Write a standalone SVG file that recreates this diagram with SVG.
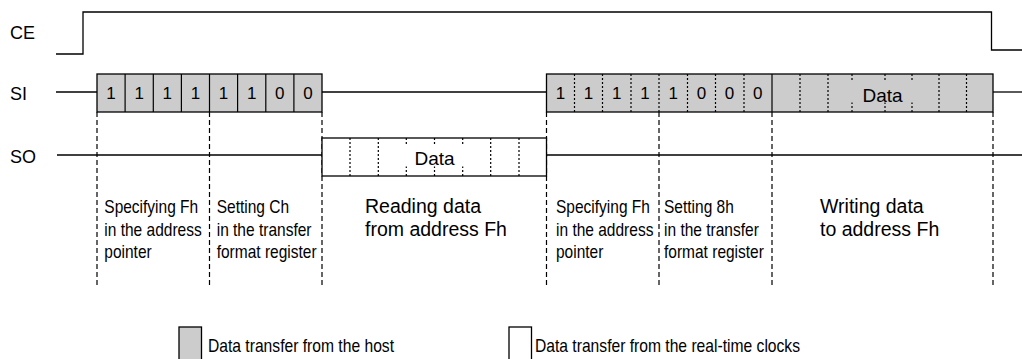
<svg xmlns="http://www.w3.org/2000/svg" width="1022" height="359" viewBox="0 0 1022 359">
<style>
.ln{stroke:#000;stroke-width:1.3;fill:none}
.box{stroke:#000;stroke-width:1.3}
.host{fill:#cccccc}
.rtc{fill:#ffffff}
.dot{stroke:#000;stroke-width:1.2;stroke-dasharray:2,2;fill:none}
.dash{stroke:#000;stroke-width:1.2;stroke-dasharray:5,3;fill:none}
.sep{stroke:#000;stroke-width:1.2}
text{font-family:"Liberation Sans",Arial,sans-serif;fill:#000}
.sig{font-size:18px}
.bit{font-size:17px;text-anchor:middle}
.data{font-size:19px;text-anchor:middle}
.nar{font-size:19px}
.desc{font-size:19.5px}
</style>
<rect width="1022" height="359" fill="#ffffff"/>

<g id="connectors">
  <polyline class="ln" points="56,54 83,54 83,12 991.5,12 991.5,50 1022,50"/>
  <line class="ln" x1="56" y1="92" x2="97" y2="92"/>
  <line class="ln" x1="322" y1="92" x2="546" y2="92"/>
  <line class="ln" x1="993" y1="92" x2="1022" y2="92"/>
  <line class="ln" x1="57" y1="155" x2="322" y2="155"/>
  <line class="ln" x1="547" y1="155" x2="1022" y2="155"/>
  <line class="dash" x1="97" y1="112" x2="97" y2="285"/>
  <line class="dash" x1="209.5" y1="112" x2="209.5" y2="285"/>
  <line class="dash" x1="322" y1="112" x2="322" y2="285"/>
  <line class="dash" x1="546.5" y1="112" x2="546.5" y2="285"/>
  <line class="dash" x1="659" y1="112" x2="659" y2="285"/>
  <line class="dash" x1="772" y1="112" x2="772" y2="285"/>
  <line class="dash" x1="993" y1="112" x2="993" y2="285"/>
</g>

<g id="label-CE"><text class="sig" x="10" y="39">CE</text></g>
<g id="label-SI"><text class="sig" x="10" y="100">SI</text></g>
<g id="label-SO"><text class="sig" x="10" y="163">SO</text></g>

<g id="si-frame-1">
  <rect class="box host" x="97" y="74" width="225" height="38"/>
  <line class="sep" x1="125.1" y1="74" x2="125.1" y2="112"/>
  <line class="sep" x1="153.3" y1="74" x2="153.3" y2="112"/>
  <line class="sep" x1="181.4" y1="74" x2="181.4" y2="112"/>
  <line class="sep" x1="209.5" y1="74" x2="209.5" y2="112"/>
  <line class="sep" x1="237.6" y1="74" x2="237.6" y2="112"/>
  <line class="sep" x1="265.8" y1="74" x2="265.8" y2="112"/>
  <line class="sep" x1="293.9" y1="74" x2="293.9" y2="112"/>
  <text class="bit" x="111" y="99">1</text>
  <text class="bit" x="139.2" y="99">1</text>
  <text class="bit" x="167.3" y="99">1</text>
  <text class="bit" x="195.4" y="99">1</text>
  <text class="bit" x="223.5" y="99">1</text>
  <text class="bit" x="251.7" y="99">1</text>
  <text class="bit" x="279.8" y="99">0</text>
  <text class="bit" x="308" y="99">0</text>
</g>

<g id="si-frame-2">
  <rect class="box host" x="546.5" y="74" width="446.5" height="38"/>
  <line class="dot" x1="574.5" y1="74" x2="574.5" y2="112"/>
  <line class="dot" x1="602.5" y1="74" x2="602.5" y2="112"/>
  <line class="dot" x1="631" y1="74" x2="631" y2="112"/>
  <line class="dot" x1="659" y1="74" x2="659" y2="112"/>
  <line class="dot" x1="687.5" y1="74" x2="687.5" y2="112"/>
  <line class="dot" x1="715.5" y1="74" x2="715.5" y2="112"/>
  <line class="dot" x1="744" y1="74" x2="744" y2="112"/>
  <line class="sep" x1="772" y1="74" x2="772" y2="112"/>
  <line class="dot" x1="800" y1="74" x2="800" y2="112"/>
  <line class="dot" x1="828" y1="74" x2="828" y2="112"/>
  <line class="dot" x1="852" y1="74" x2="852" y2="112"/>
  <line class="dot" x1="885" y1="74" x2="885" y2="112"/>
  <line class="dot" x1="912" y1="74" x2="912" y2="112"/>
  <line class="dot" x1="939" y1="74" x2="939" y2="112"/>
  <line class="dot" x1="966.5" y1="74" x2="966.5" y2="112"/>
  <rect x="845" y="81.5" width="74" height="21" fill="#cccccc"/>
  <text class="bit" x="560.5" y="99">1</text>
  <text class="bit" x="588.6" y="99">1</text>
  <text class="bit" x="616.8" y="99">1</text>
  <text class="bit" x="645" y="99">1</text>
  <text class="bit" x="673.2" y="99">1</text>
  <text class="bit" x="701.4" y="99">0</text>
  <text class="bit" x="729.6" y="99">0</text>
  <text class="bit" x="757.8" y="99">0</text>
  <text class="data" x="882.5" y="101.5">Data</text>
</g>

<g id="so-data">
  <rect class="box rtc" x="322" y="138" width="224.5" height="38"/>
  <line class="dot" x1="350" y1="138" x2="350" y2="176"/>
  <line class="dot" x1="378.3" y1="138" x2="378.3" y2="176"/>
  <line class="dot" x1="406.3" y1="138" x2="406.3" y2="176"/>
  <line class="dot" x1="434.5" y1="138" x2="434.5" y2="176"/>
  <line class="dot" x1="462.7" y1="138" x2="462.7" y2="176"/>
  <line class="dot" x1="490.7" y1="138" x2="490.7" y2="176"/>
  <line class="dot" x1="519" y1="138" x2="519" y2="176"/>
  <rect x="397" y="145.5" width="75" height="21" fill="#ffffff"/>
  <text class="data" x="434.5" y="165">Data</text>
</g>

<g id="desc-1">
  <text class="nar" x="104.3" y="213" textLength="93.9" lengthAdjust="spacingAndGlyphs">Specifying Fh</text>
  <text class="nar" x="104.3" y="235.7" textLength="97.4" lengthAdjust="spacingAndGlyphs">in the address</text>
  <text class="nar" x="104.3" y="258" textLength="47.4" lengthAdjust="spacingAndGlyphs">pointer</text>
</g>
<g id="desc-2">
  <text class="nar" x="216.7" y="213" textLength="72.4" lengthAdjust="spacingAndGlyphs">Setting Ch</text>
  <text class="nar" x="216.7" y="235.7" textLength="94.8" lengthAdjust="spacingAndGlyphs">in the transfer</text>
  <text class="nar" x="216.7" y="258" textLength="99.9" lengthAdjust="spacingAndGlyphs">format register</text>
</g>
<g id="desc-3">
  <text class="desc" x="365" y="213">Reading data</text>
  <text class="desc" x="365" y="235.7">from address Fh</text>
</g>
<g id="desc-4">
  <text class="nar" x="556" y="213" textLength="93.9" lengthAdjust="spacingAndGlyphs">Specifying Fh</text>
  <text class="nar" x="556" y="235.7" textLength="97.4" lengthAdjust="spacingAndGlyphs">in the address</text>
  <text class="nar" x="556" y="258" textLength="47.4" lengthAdjust="spacingAndGlyphs">pointer</text>
</g>
<g id="desc-5">
  <text class="nar" x="664" y="213" textLength="69.8" lengthAdjust="spacingAndGlyphs">Setting 8h</text>
  <text class="nar" x="664" y="235.7" textLength="94.8" lengthAdjust="spacingAndGlyphs">in the transfer</text>
  <text class="nar" x="664" y="258" textLength="99.9" lengthAdjust="spacingAndGlyphs">format register</text>
</g>
<g id="desc-6">
  <text class="desc" x="820" y="213">Writing data</text>
  <text class="desc" x="820" y="235.7">to address Fh</text>
</g>

<g id="legend-host">
  <rect class="box host" x="179" y="327" width="22.5" height="40"/>
  <text class="nar" x="208" y="352" textLength="186" lengthAdjust="spacingAndGlyphs">Data transfer from the host</text>
</g>
<g id="legend-rtc">
  <rect class="box rtc" x="509" y="327" width="22.5" height="40"/>
  <text class="nar" x="535" y="352" textLength="265" lengthAdjust="spacingAndGlyphs">Data transfer from the real-time clocks</text>
</g>
</svg>
